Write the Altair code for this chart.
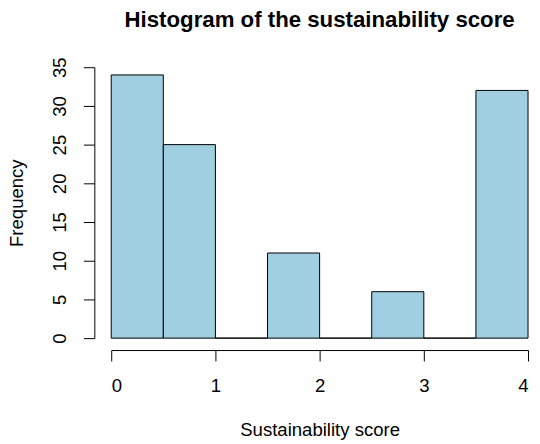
import altair as alt
import pandas as pd

bin_start = [0.0, 0.5, 1.0, 1.5, 2.0, 2.5, 3.0, 3.5]
bin_end = [0.5, 1.0, 1.5, 2.0, 2.5, 3.0, 3.5, 4.0]
counts = [34, 25, 0, 11, 0, 6, 0, 32]
x_ticks = [0, 1, 2, 3, 4]
y_ticks = [0, 5, 10, 15, 20, 25, 30, 35]

df = pd.DataFrame({"x0": bin_start, "x1": bin_end, "count": counts})

FONT = "Liberation Sans"
FS = 18.7

bars = alt.Chart(df).mark_rect(
    fill="#9fcfe0", stroke="#000000", strokeWidth=1
).encode(
    x=alt.X("x0:Q",
            scale=alt.Scale(domain=[0, 4], nice=False, zero=False),
            axis=alt.Axis(values=x_ticks, title="Sustainability score",
                          offset=12, tickSize=11, labelPadding=16,
                          labelFontSize=FS, titleFontSize=FS, titlePadding=25,
                          titleFontWeight="normal", grid=False,
                          domainColor="#000000", tickColor="#000000",
                          labelColor="#000000", titleColor="#000000",
                          labelFont=FONT, titleFont=FONT, format="d")),
    x2="x1:Q",
    y=alt.Y("count:Q",
            scale=alt.Scale(domain=[0, 35], nice=False),
            axis=alt.Axis(values=y_ticks, title="Frequency",
                          offset=17, tickSize=11, labelPadding=14,
                          labelAngle=-90, labelAlign="center", labelBaseline="bottom",
                          labelFontSize=FS, titleFontSize=FS, titlePadding=24,
                          titleFontWeight="normal", grid=False,
                          domainColor="#000000", tickColor="#000000",
                          labelColor="#000000", titleColor="#000000",
                          labelFont=FONT, titleFont=FONT)),
    y2=alt.datum(0),
)

chart = bars.properties(
    width=420,
    height=273,
    title=alt.TitleParams("Histogram of the sustainability score",
                          fontSize=22.4, font=FONT, fontWeight="bold",
                          anchor="middle", frame="group", offset=26,
                          color="#000000"),
    autosize=alt.AutoSizeParams(type="none"),
    padding={"left": 104, "top": 58, "right": 4, "bottom": 104},
).configure_view(stroke=None)

chart.save("out.html", embed_options={"renderer": "svg", "actions": False})
